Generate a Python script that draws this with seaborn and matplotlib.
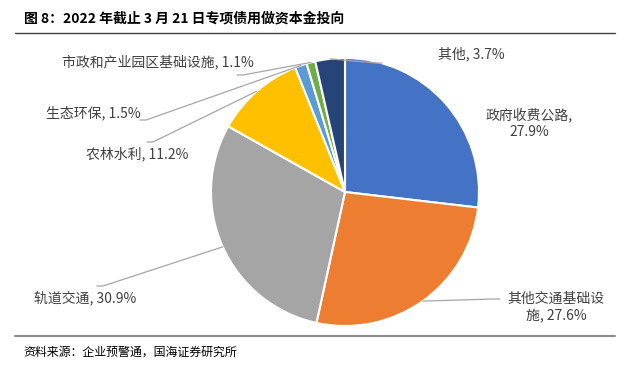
import matplotlib.pyplot as plt
import numpy as np
import seaborn as sb

# 数据
categories = ["政府收费公路", "其他交通基础设施", "轨道交通", "农林水利",
              "生态环保", "市政和产业园区基础设施", "其他"]
values = [27.9, 27.6, 30.9, 11.2, 1.5, 1.1, 3.7]
labels = ["政府收费公路,\n27.9%", "其他交通基础设\n施, 27.6%", "轨道交通, 30.9%",
          "农林水利, 11.2%", "生态环保, 1.5%", "市政和产业园区基础设施, 1.1%",
          "其他, 3.7%"]
colors = ["#4472C4", "#ED7D31", "#A5A5A5", "#FFC000", "#5B9BD5", "#70AD47", "#264478"]

title = "图 8：2022 年截止 3 月 21 日专项债用做资本金投向"
source = "资料来源：企业预警通，国海证券研究所"

sb.set_theme(style="white")
plt.rcParams['font.family'] = ['Noto Sans CJK SC', 'DejaVu Sans']

W, H = 630, 368
fig = plt.figure(figsize=(W / 100, H / 100), dpi=100)

# pie geometry in pixels
cx, cy, r = 345, 192, 134
ax = fig.add_axes([(cx - r) / W, (H - cy - r) / H, 2 * r / W, 2 * r / H])
wedges, _ = ax.pie(values, colors=colors, startangle=90, counterclock=False,
                   wedgeprops=dict(edgecolor="white", linewidth=1.5))
ax.set_xlim(-1, 1)
ax.set_ylim(-1, 1)
ax.axis("off")

# overlay in pixel coords for text / leader lines
ov = fig.add_axes([0, 0, 1, 1], facecolor="none")
ov.set_xlim(0, W)
ov.set_ylim(H, 0)
ov.axis("off")

# label positions (pixel centres) and leader line ends
label_pos = [(529, 123), (556, 308), (85, 298), (137, 154), (93, 113), (158, 62), (471, 54)]
leader_end = [None, (500, 299), (97, 286), (147, 142), (140, 120), (237, 75), (382, 63)]

for w, lab, pos, end in zip(wedges, labels, label_pos, leader_end):
    ov.text(pos[0], pos[1], lab, ha="center", va="center", fontsize=10,
            color="#404040", linespacing=1.3)
    if end is not None:
        mid = np.deg2rad((w.theta1 + w.theta2) / 2)
        sx, sy = cx + r * np.cos(mid), cy - r * np.sin(mid)
        step = 6 if end[0] < cx else -6
        ov.plot([sx, end[0] + step, end[0]], [sy, end[1], end[1]], color="#A6A6A6", lw=0.9)

# title, rules, source
ov.text(24, 18, title, fontsize=10, fontweight="bold", color="black", va="center", ha="left")
ov.plot([15, 615], [33, 33], color="#404040", lw=1.0)
ov.plot([15, 615], [336, 336], color="#8C8C8C", lw=1.5)
ov.text(23, 352, source, fontsize=8.6, color="black", va="center", ha="left")

plt.savefig("out.png", dpi=100)
